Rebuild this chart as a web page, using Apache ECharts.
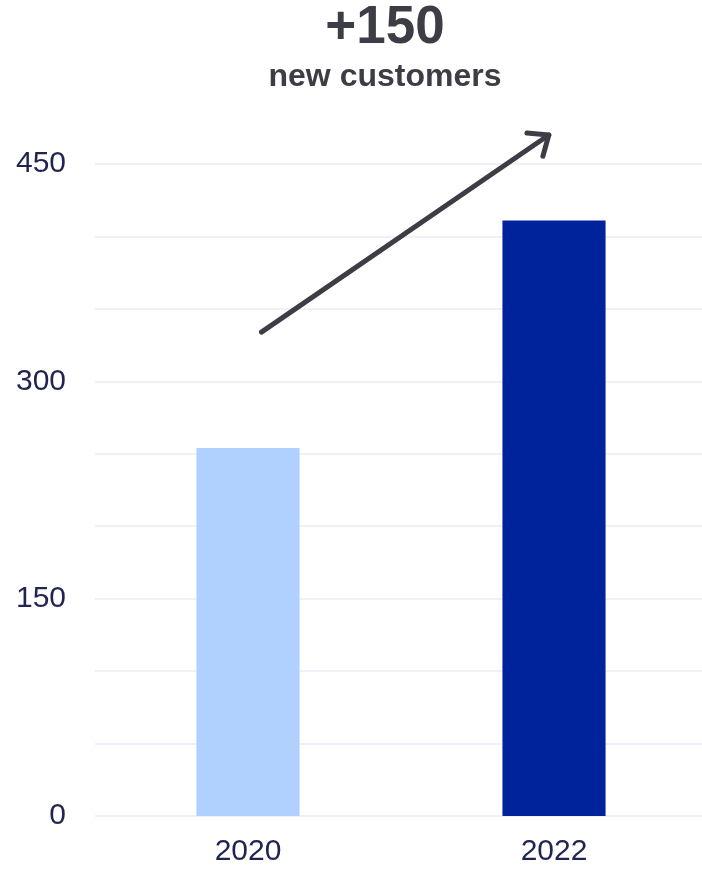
<!DOCTYPE html>
<html>
<head>
<meta charset="utf-8">
<script src="https://cdn.jsdelivr.net/npm/echarts@6/dist/echarts.min.js"></script>
<style>
html,body{margin:0;padding:0;background:#fff;overflow:hidden;}
#chart{width:702px;height:872px;}
</style>
</head>
<body>
<div id="chart"></div>
<script>
var categories = ['2020', '2022'];
var customers = [254, 411];
var barColors = ['#b0d1fe', '#00239c'];
var headline = '+150';
var subline = 'new customers';
// arrow annotation: [x on 0..2 band scale, y value] start and end
var arrowFrom = [0.544, 334];
var arrowTo = [1.483, 470];

var FONT = '"Liberation Sans", Arial, Helvetica, sans-serif';
var chart = echarts.init(document.getElementById('chart'), null, {renderer: 'canvas'});

var option = {
  backgroundColor: '#ffffff',
  animation: false,
  title: [
    {
      text: headline, left: 385, top: 2, textAlign: 'center', padding: 0,
      textStyle: {fontFamily: FONT, fontSize: 53, fontWeight: 'bold', color: '#3d3d45', lineHeight: 53}
    },
    {
      text: subline, left: 385, top: 61, textAlign: 'center', padding: 0,
      textStyle: {fontFamily: FONT, fontSize: 32, fontWeight: 'bold', color: '#3d3d45', lineHeight: 32}
    }
  ],
  grid: {left: 95, width: 612, top: 164, bottom: 56, containLabel: false, outerBoundsMode: 'none'},
  xAxis: [
    {
      type: 'category', data: categories,
      axisLine: {show: false}, axisTick: {show: false},
      axisLabel: {fontFamily: FONT, fontSize: 30, color: '#1f2450', margin: 21}
    },
    {type: 'value', min: 0, max: 2, show: false}
  ],
  yAxis: {
    type: 'value', min: 0, max: 450, interval: 50,
    axisLine: {show: false}, axisTick: {show: false},
    axisLabel: {
      fontFamily: FONT, fontSize: 30, color: '#1f2450', margin: 29,
      formatter: function (v) { return v % 150 === 0 ? String(v) : ''; }
    },
    splitLine: {show: true, lineStyle: {color: '#eff0f8', width: 2}}
  },
  series: [
    {
      type: 'bar', barWidth: '33.7%',
      data: customers.map(function (v, i) { return {value: v, itemStyle: {color: barColors[i]}}; })
    },
    {
      type: 'custom', xAxisIndex: 1, yAxisIndex: 0, clip: false, silent: true,
      data: [[arrowFrom[0], arrowFrom[1], arrowTo[0], arrowTo[1]]],
      renderItem: function (params, api) {
        var p1 = api.coord([api.value(0), api.value(1)]);
        var p2 = api.coord([api.value(2), api.value(3)]);
        var ang = Math.atan2(p1[1] - p2[1], p1[0] - p2[0]);
        var L = 22, spread = 40 * Math.PI / 180;
        var a1 = [p2[0] + L * Math.cos(ang + spread), p2[1] + L * Math.sin(ang + spread)];
        var a2 = [p2[0] + L * Math.cos(ang - spread), p2[1] + L * Math.sin(ang - spread)];
        var style = {stroke: '#3d3d45', lineWidth: 5, lineCap: 'round', lineJoin: 'round', fill: null};
        return {
          type: 'group',
          children: [
            {type: 'line', shape: {x1: p1[0], y1: p1[1], x2: p2[0], y2: p2[1]}, style: style},
            {type: 'polyline', shape: {points: [a1, p2, a2]}, style: style}
          ]
        };
      }
    }
  ]
};
chart.setOption(option);
</script>
</body>
</html>
